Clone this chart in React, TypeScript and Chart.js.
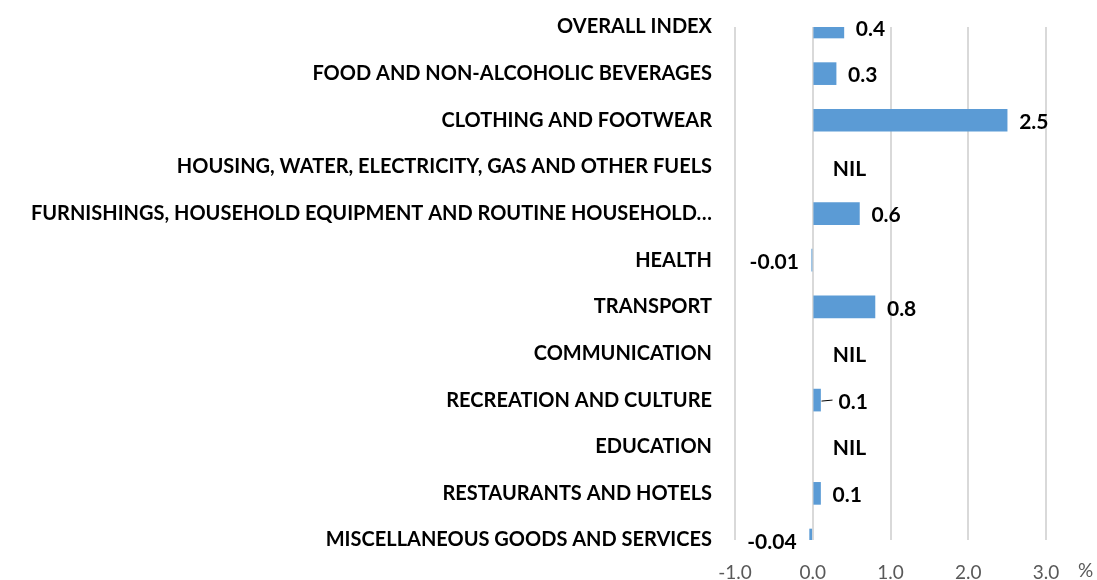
import React, { useEffect, useRef } from "react";
import { Chart, registerables } from "chart.js";

Chart.register(...registerables);

const categories = [
  "OVERALL INDEX",
  "FOOD AND NON-ALCOHOLIC BEVERAGES",
  "CLOTHING AND FOOTWEAR",
  "HOUSING, WATER, ELECTRICITY, GAS AND OTHER FUELS",
  "FURNISHINGS, HOUSEHOLD EQUIPMENT AND ROUTINE HOUSEHOLD…",
  "HEALTH",
  "TRANSPORT",
  "COMMUNICATION",
  "RECREATION AND CULTURE",
  "EDUCATION",
  "RESTAURANTS AND HOTELS",
  "MISCELLANEOUS GOODS AND SERVICES",
];

// null = NIL (no change reported)
const values: (number | null)[] = [0.4, 0.3, 2.5, null, 0.6, -0.01, 0.8, null, 0.1, null, 0.1, -0.04];

const valueLabels = ["0.4", "0.3", "2.5", "NIL", "0.6", "-0.01", "0.8", "NIL", "0.1", "NIL", "0.1", "-0.04"];

const xTicks = [-1, 0, 1, 2, 3];

const BAR_COLOR = "#5B9BD5";
const FAMILY = "Lato, 'Noto Sans', sans-serif";
const LABEL_FONT = `bold 21px ${FAMILY}`;

const dataLabelPlugin = {
  id: "dataLabels",
  afterDatasetsDraw(chart: any) {
    const ctx = chart.ctx;
    const xScale = chart.scales.x;
    const yScale = chart.scales.y;
    const zero = xScale.getPixelForValue(0);
    ctx.save();
    ctx.font = LABEL_FONT;
    ctx.fillStyle = "#000000";
    ctx.textBaseline = "middle";
    values.forEach((v, i) => {
      const text = valueLabels[i];
      const y = yScale.getPixelForValue(i) + 2;
      if (v === null) {
        ctx.textAlign = "left";
        ctx.fillText(text, zero + 20, y);
        return;
      }
      const end = xScale.getPixelForValue(v);
      if (v < 0) {
        ctx.textAlign = "right";
        ctx.fillText(text, Math.min(end, zero) - 13, y);
      } else if (i === 8) {
        ctx.textAlign = "left";
        ctx.strokeStyle = "#000000";
        ctx.lineWidth = 1;
        ctx.beginPath();
        ctx.moveTo(end + 1, y - 1);
        ctx.lineTo(end + 12, y - 2);
        ctx.stroke();
        ctx.fillText(text, end + 18, y);
      } else {
        ctx.textAlign = "left";
        ctx.fillText(text, end + 12, y);
      }
    });
    // unit label
    ctx.font = `19px ${FAMILY}`;
    ctx.fillStyle = "#595959";
    ctx.textAlign = "left";
    ctx.fillText("%", chart.chartArea.right + 32, 571);
    ctx.restore();
  },
};

export default function App() {
  const ref = useRef<HTMLCanvasElement>(null);
  useEffect(() => {
    if (!ref.current) return;
    const chart = new Chart(ref.current, {
      type: "bar",
      data: {
        labels: categories,
        datasets: [
          {
            data: values,
            backgroundColor: BAR_COLOR,
            borderWidth: 0,
            barThickness: 22,
            clip: 0,
          } as any,
        ],
      },
      options: {
        indexAxis: "y",
        animation: false,
        responsive: true,
        maintainAspectRatio: false,
        layout: { padding: { top: 27, right: 51, bottom: 0, left: 0 } },
        plugins: { legend: { display: false }, tooltip: { enabled: false } },
        scales: {
          x: {
            type: "linear",
            min: -1,
            max: 3,
            afterBuildTicks: (scale: any) => {
              scale.ticks = xTicks.map((v) => ({ value: v }));
            },
            afterFit: (scale: any) => {
              scale.height = 40;
            },
            grid: { color: "#D9D9D9", lineWidth: 2, drawTicks: false },
            border: { display: false },
            ticks: {
              padding: 21,
              color: "#595959",
              font: { family: FAMILY, size: 19 },
              callback: (v: any) => Number(v).toFixed(1),
            },
          },
          y: {
            type: "category",
            offset: false,
            grid: { display: false, drawTicks: false },
            border: { display: false },
            afterFit: (scale: any) => {
              scale.width = 735;
              scale.paddingTop = 0;
              scale.paddingBottom = 0;
            },
            ticks: {
              autoSkip: false,
              padding: 23,
              color: "#000000",
              font: { family: FAMILY, size: 20, weight: "bold" },
            },
          },
        },
      },
      plugins: [dataLabelPlugin],
    });
    return () => chart.destroy();
  }, []);
  return (
    <div style={{ position: "fixed", left: 0, top: 0, width: 1097, height: 580, background: "#fff" }}>
      <canvas ref={ref} />
    </div>
  );
}
